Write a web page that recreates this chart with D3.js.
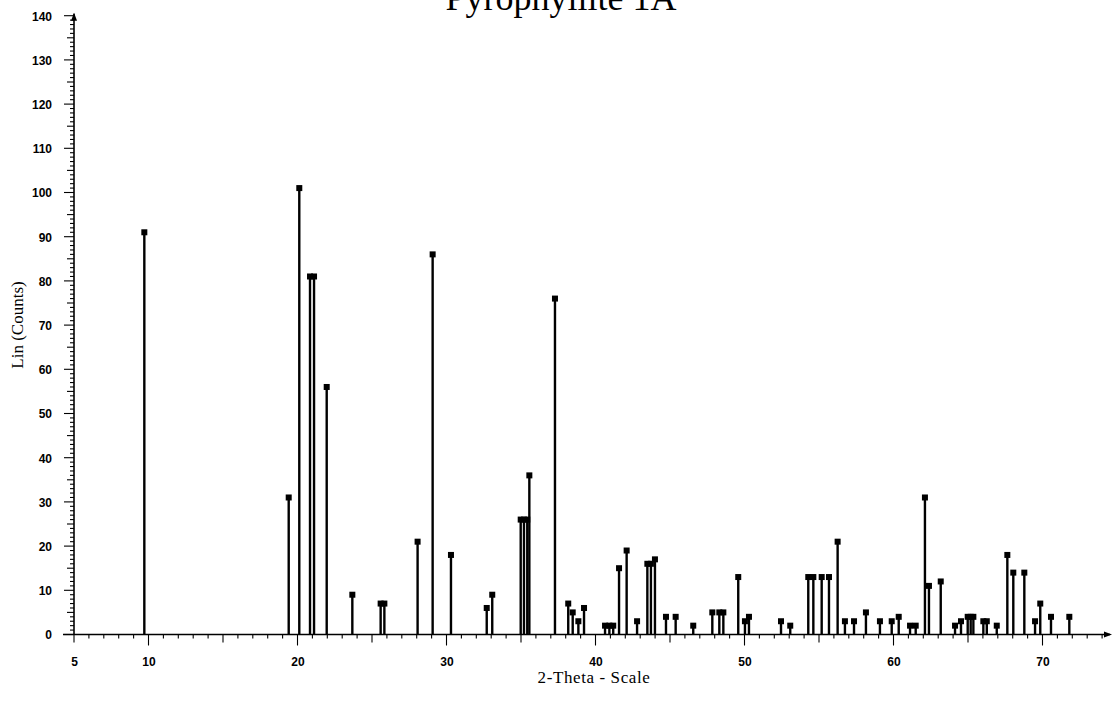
<!DOCTYPE html>
<html>
<head>
<meta charset="utf-8">
<script src="https://cdn.jsdelivr.net/npm/d3@7/dist/d3.min.js"></script>
<style>
  html, body { margin: 0; padding: 0; background: #fff; }
  svg { display: block; }
</style>
</head>
<body>
<svg id="chart" width="1112" height="704"></svg>
<script>
// Reference pattern: peak positions (2-theta, degrees) and intensities (Lin counts)
const peakTheta = [
  9.72, 19.41, 20.12, 20.84, 21.11, 21.96, 23.68, 25.58, 25.83, 28.06,
  29.07, 30.30, 32.70, 33.07, 34.98, 35.20, 35.42, 35.56, 37.28, 38.17,
  38.47, 38.85, 39.23, 40.64, 40.93, 41.19, 41.58, 42.09, 42.79, 43.48,
  43.72, 43.99, 44.73, 45.38, 46.56, 47.84, 48.31, 48.58, 49.58, 50.03,
  50.30, 52.45, 53.07, 54.28, 54.62, 55.18, 55.67, 56.25, 56.74, 57.35,
  58.15, 59.09, 59.88, 60.35, 61.11, 61.49, 62.11, 62.38, 63.17, 64.13,
  64.53, 64.98, 65.18, 65.36, 66.03, 66.26, 66.93, 67.64, 68.04, 68.78,
  69.50, 69.85, 70.57, 71.80
];
const peakCounts = [
  91, 31, 101, 81, 81, 56, 9, 7, 7, 21,
  86, 18, 6, 9, 26, 26, 26, 36, 76, 7,
  5, 3, 6, 2, 2, 2, 15, 19, 3, 16,
  16, 17, 4, 4, 2, 5, 5, 5, 13, 3,
  4, 3, 2, 13, 13, 13, 13, 21, 3, 3,
  5, 3, 3, 4, 2, 2, 31, 11, 12, 2,
  3, 4, 4, 4, 3, 3, 2, 18, 14, 14,
  3, 7, 4, 4
];

const yTickValues = [0, 10, 20, 30, 40, 50, 60, 70, 80, 90, 100, 110, 120, 130, 140];
const xTickLabels = [5, 10, 20, 30, 40, 50, 60, 70];

const titleText = "Pyrophyllite 1A";
const xTitle = "2-Theta - Scale";
const yTitle = "Lin (Counts)";

const svg = d3.select("#chart");

const x = d3.scaleLinear().domain([5, 75]).range([74, 1117]);
const y = d3.scaleLinear().domain([0, 140]).range([634.5, 15.7]);

const axisRight = 1110;
const ink = "#000";
const tickFont = "'Liberation Sans', Arial, sans-serif";
const serif = "'Liberation Serif', 'Times New Roman', serif";

// Title, partly above the top edge
svg.append("text")
  .attr("x", 561).attr("y", 10)
  .attr("text-anchor", "middle")
  .attr("font-family", serif)
  .attr("font-size", 36)
  .attr("fill", ink)
  .text(titleText);

// Minor ticks on the y axis: every count, longer at 5s and 10s
const yMinor = d3.range(0, 141, 1);
svg.append("g").selectAll("line").data(yMinor).join("line")
  .attr("x1", d => x(5) - (d % 10 === 0 ? 10 : d % 5 === 0 ? 7 : 4))
  .attr("x2", x(5))
  .attr("y1", d => y(d)).attr("y2", d => y(d))
  .attr("stroke", ink).attr("stroke-width", 1.1);

// Minor ticks on the x axis: every degree, longer at 5s and 10s
const xMinor = d3.range(5, 75, 1);
svg.append("g").selectAll("line").data(xMinor).join("line")
  .attr("x1", d => x(d)).attr("x2", d => x(d))
  .attr("y1", y(0))
  .attr("y2", d => y(0) + (d % 10 === 0 ? 11 : d % 5 === 0 ? 8 : 4))
  .attr("stroke", ink).attr("stroke-width", 1.1);

// Axis lines
svg.append("line")
  .attr("x1", x(5) - 11).attr("x2", axisRight)
  .attr("y1", y(0)).attr("y2", y(0))
  .attr("stroke", ink).attr("stroke-width", 1.4);
svg.append("line")
  .attr("x1", x(5)).attr("x2", x(5))
  .attr("y1", y(0)).attr("y2", y(140) - 2)
  .attr("stroke", ink).attr("stroke-width", 1.6);

// Arrow heads
svg.append("path")
  .attr("d", `M${x(5) - 3},${y(140) + 5} L${x(5)},${y(140) - 3} L${x(5) + 3},${y(140) + 5} Z`)
  .attr("fill", ink);
svg.append("path")
  .attr("d", `M${axisRight - 6},${y(0) - 3} L${axisRight + 2},${y(0)} L${axisRight - 6},${y(0) + 3} Z`)
  .attr("fill", ink);

// Y tick labels
const yAxis = d3.axisLeft(y).tickValues(yTickValues).tickSize(0).tickPadding(22);
const gy = svg.append("g").attr("transform", `translate(${x(5)},0)`).call(yAxis);
gy.select(".domain").remove();
gy.selectAll("text")
  .attr("font-family", tickFont).attr("font-size", 12).attr("font-weight", "bold")
  .attr("fill", ink).attr("dy", "0.36em");

// X tick labels
const xAxis = d3.axisBottom(x).tickValues(xTickLabels).tickSize(0).tickPadding(0);
const gx = svg.append("g").attr("transform", `translate(0,${y(0)})`).call(xAxis);
gx.select(".domain").remove();
gx.selectAll("text")
  .attr("font-family", tickFont).attr("font-size", 12).attr("font-weight", "bold")
  .attr("fill", ink).attr("y", 31).attr("dy", 0);

// Axis titles
svg.append("text")
  .attr("x", 594).attr("y", 683)
  .attr("text-anchor", "middle")
  .attr("font-family", serif).attr("font-size", 17)
  .attr("letter-spacing", 0.6)
  .attr("fill", ink)
  .text(xTitle);
svg.append("text")
  .attr("transform", "translate(23,325) rotate(-90)")
  .attr("text-anchor", "middle")
  .attr("font-family", serif).attr("font-size", 17)
  .attr("fill", ink)
  .text(yTitle);

// Peak stems and square markers
const peaks = peakTheta.map((t, i) => ({ t, c: peakCounts[i] }));
svg.append("g").selectAll("line").data(peaks).join("line")
  .attr("x1", d => x(d.t)).attr("x2", d => x(d.t))
  .attr("y1", y(0)).attr("y2", d => y(d.c))
  .attr("stroke", ink).attr("stroke-width", 2.4);
const m = 6;
svg.append("g").selectAll("rect").data(peaks).join("rect")
  .attr("x", d => x(d.t) - m / 2).attr("y", d => y(d.c) - m / 2)
  .attr("width", m).attr("height", m)
  .attr("fill", ink);
</script>
</body>
</html>
